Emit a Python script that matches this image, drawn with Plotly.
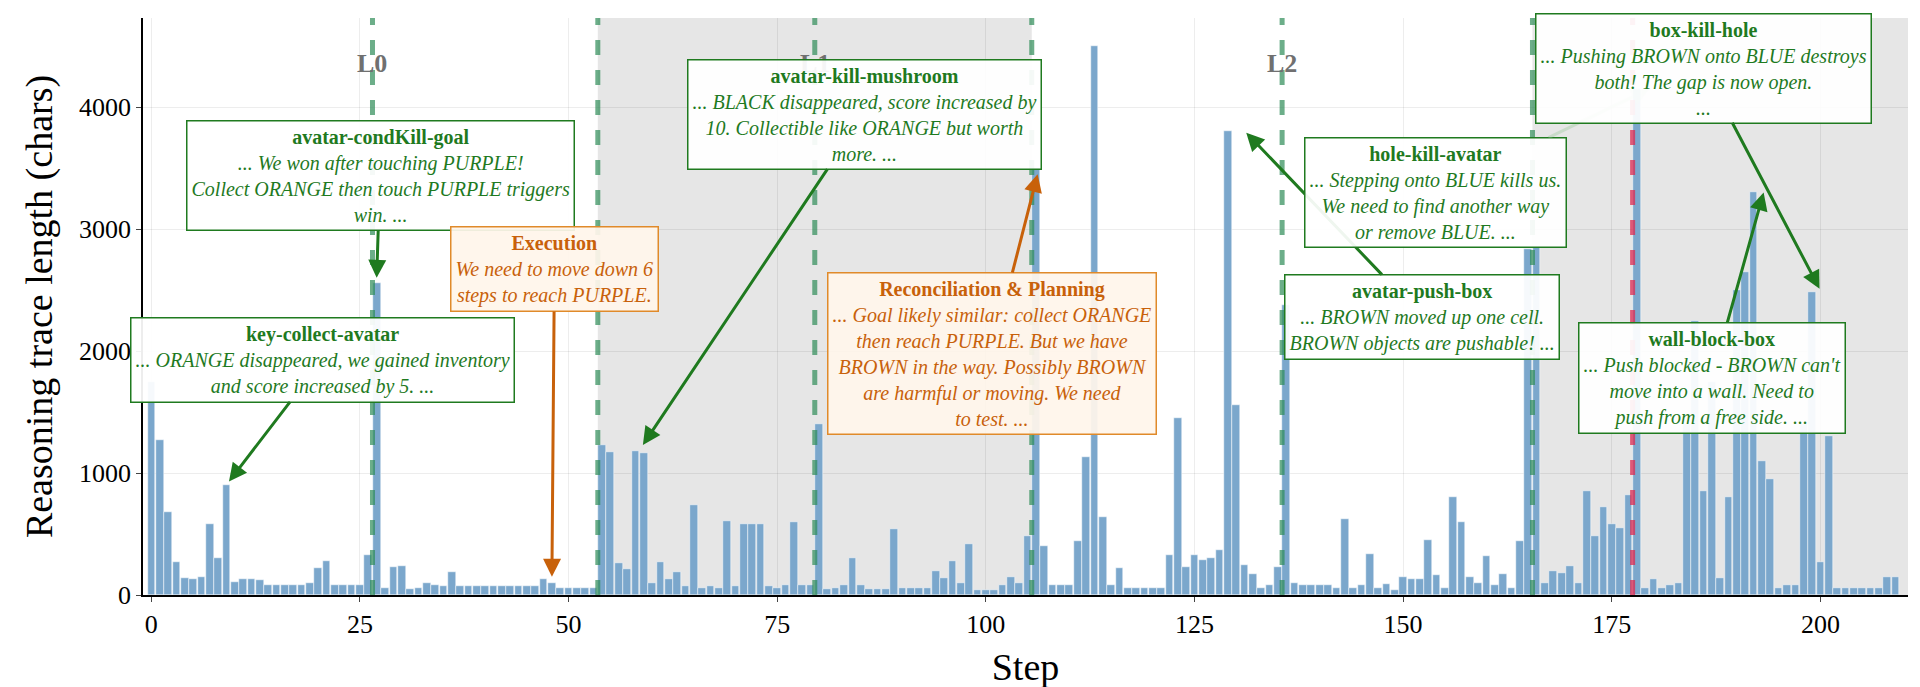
import plotly.graph_objects as go

# Reasoning trace length per step (chars)
steps = list(range(210))
trace_len = [
    1750, 1270, 680, 270, 140, 130, 150, 580, 300, 900,
    110, 130, 130, 120, 80, 80, 80, 80, 80, 100,
    220, 280, 80, 80, 80, 80, 330, 2560, 60, 230,
    240, 50, 60, 100, 80, 70, 190, 70, 70, 70,
    70, 70, 70, 70, 70, 70, 70, 130, 100, 60,
    60, 60, 60, 60, 1230, 1170, 260, 210, 1180, 1160,
    100, 270, 130, 190, 70, 740, 60, 70, 60, 610,
    70, 580, 580, 580, 70, 60, 80, 600, 80, 80,
    1400, 50, 60, 80, 300, 80, 50, 50, 50, 540,
    60, 60, 60, 60, 200, 140, 280, 100, 420, 40,
    40, 40, 80, 150, 100, 480, 3500, 400, 80, 80,
    80, 440, 1130, 4500, 640, 80, 220, 60, 60, 60,
    60, 60, 330, 1450, 230, 330, 290, 300, 370, 3800,
    1560, 250, 170, 60, 80, 230, 2380, 100, 80, 80,
    80, 80, 60, 620, 60, 80, 340, 60, 90, 40,
    150, 130, 130, 450, 160, 60, 800, 600, 150, 100,
    320, 80, 170, 60, 440, 2840, 2850, 100, 200, 180,
    240, 100, 850, 480, 720, 580, 550, 820, 4150, 60,
    130, 60, 80, 100, 1400, 2250, 850, 1750, 140, 800,
    2500, 2650, 3300, 1100, 950, 60, 80, 80, 1400, 2480,
    270, 1300, 60, 60, 60, 60, 60, 60, 150, 150,
]

level_bounds = [26.5, 53.5, 79.5, 105.5, 135.5, 165.5]
fail_bound = 177.5
shaded = [(53.5, 105.5), (165.5, 210.5)]
level_labels = [("L0", 26.5), ("L1", 79.5), ("L2", 135.5)]

GREEN = "#1f7a1f"
ORANGE = "#c8610a"

# (title, body, box x, box y, arrow x, arrow y, kind)
notes = [
    ("avatar-condKill-goal",
     "... We won after touching PURPLE!<br>Collect ORANGE then touch PURPLE triggers<br>win. ...",
     27.4, 3440, 27, 2600, "g"),
    ("key-collect-avatar",
     "... ORANGE disappeared, we gained inventory<br>and score increased by 5. ...",
     20.5, 1930, 9.3, 930, "g"),
    ("Execution",
     "We need to move down 6<br>steps to reach PURPLE.",
     48.3, 2670, 48, 150, "o"),
    ("avatar-kill-mushroom",
     "... BLACK disappeared, score increased by<br>10. Collectible like ORANGE but worth<br>more. ...",
     85.4, 3940, 58.9, 1230, "g"),
    ("Reconciliation &amp; Planning",
     "... Goal likely similar: collect ORANGE<br>then reach PURPLE. But we have<br>BROWN in the way. Possibly BROWN<br>are harmful or moving. We need<br>to test. ...",
     100.7, 1980, 106.2, 3450, "o"),
    ("avatar-push-box",
     "... BROWN moved up one cell.<br>BROWN objects are pushable! ...",
     152.3, 2280, 131.2, 3790, "g"),
    ("hole-kill-avatar",
     "... Stepping onto BLUE kills us.<br>We need to find another way<br>or remove BLUE. ...",
     153.9, 3300, 179.5, 4150, "h"),
    ("box-kill-hole",
     "... Pushing BROWN onto BLUE destroys<br>both! The gap is now open.<br>...",
     186.0, 4320, 199.9, 2510, "g"),
    ("wall-block-box",
     "... Push blocked - BROWN can't<br>move into a wall. Need to<br>push from a free side. ...",
     187.0, 1780, 193.2, 3300, "g"),
]

fig = go.Figure()
fig.add_trace(go.Bar(
    x=steps, y=trace_len, width=0.92,
    marker=dict(color="#7ba7cc", line=dict(color="#ffffff", width=0.5)),
    showlegend=False,
))

shapes = []
for x0, x1 in shaded:
    shapes.append(dict(type="rect", xref="x", yref="paper", x0=x0, x1=x1, y0=0, y1=1,
                       fillcolor="rgba(200,200,200,0.45)", line_width=0, layer="below"))
for b in level_bounds:
    shapes.append(dict(type="line", xref="x", yref="paper", x0=b, x1=b, y0=0, y1=1,
                       line=dict(color="rgba(46,139,87,0.7)", width=5, dash="dash")))
shapes.append(dict(type="line", xref="x", yref="paper", x0=fail_bound, x1=fail_bound, y0=0, y1=1,
                   line=dict(color="rgba(220,40,80,0.75)", width=5, dash="dash")))

annots = []
for lab, xc in level_labels:
    annots.append(dict(x=xc, y=0.95, xref="x", yref="paper", text="<b>%s</b>" % lab,
                       showarrow=False, font=dict(size=26, color="#707070")))
for title, body, bx, by, tx, ty, kind in notes:
    col = ORANGE if kind == "o" else GREEN
    bg = "rgba(255,245,235,0.93)" if kind == "o" else "rgba(255,255,255,0.93)"
    bc = "#e08a2a" if kind == "o" else GREEN
    acol = "rgba(150,200,150,0.35)" if kind == "h" else col
    annots.append(dict(
        x=tx, y=ty, ax=bx, ay=by, xref="x", yref="y", axref="x", ayref="y",
        text="<b>%s</b><br><i>%s</i>" % (title, body),
        showarrow=True, arrowhead=2, arrowsize=1.2, arrowwidth=3, arrowcolor=acol,
        font=dict(size=20, color=col, family="Liberation Serif"),
        bgcolor=bg, bordercolor=bc, borderwidth=1.5, borderpad=4, align="center",
    ))

fig.update_layout(
    width=1920, height=687,
    margin=dict(l=135, r=20, t=10, b=100),
    plot_bgcolor="white", paper_bgcolor="white",
    font=dict(family="Liberation Serif", color="black"),
    shapes=shapes, annotations=annots, bargap=0,
)
fig.update_xaxes(range=[-1, 210.5], tickvals=[0, 25, 50, 75, 100, 125, 150, 175, 200],
                 title=dict(text="Step", font=dict(size=38)), tickfont=dict(size=26),
                 showline=True, linecolor="black", linewidth=1.5, ticks="outside",
                 showgrid=True, gridcolor="rgba(0,0,0,0.07)", zeroline=False)
fig.update_yaxes(range=[0, 4730], tickvals=[0, 1000, 2000, 3000, 4000],
                 title=dict(text="Reasoning trace length (chars)", font=dict(size=38)),
                 tickfont=dict(size=26),
                 showline=True, linecolor="black", linewidth=1.5, ticks="outside",
                 showgrid=True, gridcolor="rgba(0,0,0,0.07)", zeroline=False)

fig.write_html("out.html")
